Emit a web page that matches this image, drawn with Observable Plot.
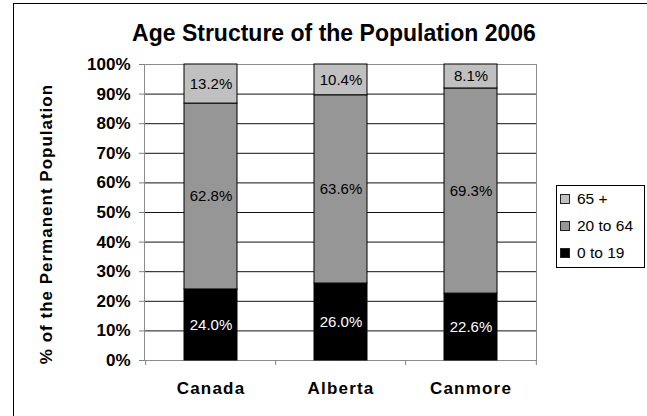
<!DOCTYPE html>
<html>
<head>
<meta charset="utf-8">
<script src="https://cdn.jsdelivr.net/npm/d3@7"></script>
<script src="https://cdn.jsdelivr.net/npm/@observablehq/plot@0.6"></script>
<style>
  body { margin: 0; background: #fff; font-family: "Liberation Sans", Arial, sans-serif; }
  #wrap { position: relative; width: 647px; height: 416px; overflow: hidden; background: #fff; }
  #border { position: absolute; left: 13px; top: 3px; width: 700px; height: 500px;
            border-left: 1px solid #000; border-top: 1px solid #000; }
  #chart { position: absolute; left: 0; top: 0; }
  #title { position: absolute; left: 334px; top: 22px; transform: translateX(-50%);
           font-size: 23px; font-weight: bold; line-height: 23px; white-space: nowrap; color: #000; }
  #legend { position: absolute; left: 556px; top: 185px; width: 87px; height: 81px;
            border: 1px solid #000; background: #fff; }
  .item { position: absolute; left: 0; height: 20px; font-size: 15.5px; line-height: 20px; color: #000; white-space: nowrap; }
  .swatch { position: absolute; left: 3px; top: 5px; width: 8px; height: 8px; border: 1px solid #222; }
  .lab { position: absolute; left: 20px; top: 0; }
</style>
</head>
<body>
<div id="wrap">
  <div id="border"></div>
  <div id="chart"></div>
  <div id="title"></div>
  <div id="legend"></div>
</div>
<script>
// Age structure of the permanent population, 2006 (percent of total)
const titleText = "Age Structure of the Population 2006";
const yTitle = "% of the Permanent Population";
const categories = ["Canada", "Alberta", "Canmore"];
const groups = ["0 to 19", "20 to 64", "65 +"];
const young = [24.0, 26.0, 22.6];
const working = [62.8, 63.6, 69.3];
const senior = [13.2, 10.4, 8.1];
const yTicks = [0, 10, 20, 30, 40, 50, 60, 70, 80, 90, 100];
const colors = ["#000000", "#969696", "#c0c0c0"];

const series = [young, working, senior];
const rows = categories.flatMap((c, i) =>
  groups.map((g, j) => ({category: c, group: g, value: series[j][i]}))
);

const W = 647, H = 416, mL = 144, mR = 111, mT = 64, mB = 56;
const step = (W - mL - mR) / categories.length;
const font = '"Liberation Sans", Arial, sans-serif';
const fmt = d => d.value.toFixed(1) + "%";

const chart = Plot.plot({
  width: W,
  height: H,
  marginLeft: mL,
  marginRight: mR,
  marginTop: mT,
  marginBottom: mB,
  style: {fontFamily: font, fontSize: "17px", fontWeight: "bold", background: "transparent", color: "#000", overflow: "visible"},
  x: {domain: categories, paddingInner: 0.594, paddingOuter: 0.297, label: null},
  y: {domain: [0, 100], label: null},
  color: {domain: groups, range: colors},
  marks: [
    // horizontal gridlines
    Plot.ruleY(yTicks.filter(t => t > 0 && t < 100), {stroke: "#111", strokeWidth: 1}),
    Plot.frame({stroke: "#8c8c8c"}),
    // stacked bars
    Plot.barY(rows, {x: "category", y: "value", fill: "group", stroke: "#000", strokeWidth: 1}),
    // segment value labels
    Plot.text(rows, {
      ...Plot.stackY({x: "category", y: "value", z: "group", text: fmt}),
      filter: d => d.group === groups[0],
      fill: "#fff", fontSize: 15, fontWeight: "normal"
    }),
    Plot.text(rows, {
      ...Plot.stackY({x: "category", y: "value", z: "group", text: fmt}),
      filter: d => d.group !== groups[0],
      fill: "#000", fontSize: 15, fontWeight: "normal"
    }),
    // y axis
    Plot.axisY({ticks: yTicks, tickFormat: d => d + "%", tickSize: 5, tickPadding: 9, stroke: "#808080", label: null}),
    // category labels
    Plot.axisX({tickSize: 0, tickPadding: 21, label: null}),
    // boundary ticks between categories
    Plot.axisX({tickSize: 5, tickFormat: () => "", dx: -step / 2, stroke: "#808080", label: null}),
    Plot.axisX({ticks: [categories[categories.length - 1]], tickSize: 5, tickFormat: () => "", dx: step / 2, stroke: "#808080", label: null}),
    // y axis title
    Plot.text([yTitle], {text: d => d, frameAnchor: "left", textAnchor: "middle", lineAnchor: "middle", rotate: -90, dx: -98, dy: 11.5, fontSize: 17, fontWeight: "bold"})
  ]
});

document.getElementById("chart").appendChild(chart);

// letter spacing on category names and the y title
d3.select(chart).selectAll("text")
  .filter(function() { return categories.includes(this.textContent); })
  .attr("letter-spacing", "1.2px");
d3.select(chart).selectAll("text")
  .filter(function() { return this.textContent === yTitle; })
  .attr("letter-spacing", "1px");

document.getElementById("title").textContent = titleText;

// legend, oldest group on top
const legend = document.getElementById("legend");
const tops = [3, 30, 57];
groups.slice().reverse().forEach((g, k) => {
  const item = document.createElement("div");
  item.className = "item";
  item.style.top = tops[k] + "px";
  const sw = document.createElement("div");
  sw.className = "swatch";
  sw.style.background = colors[groups.indexOf(g)];
  const lab = document.createElement("div");
  lab.className = "lab";
  lab.textContent = g;
  item.appendChild(sw);
  item.appendChild(lab);
  legend.appendChild(item);
});
</script>
</body>
</html>
